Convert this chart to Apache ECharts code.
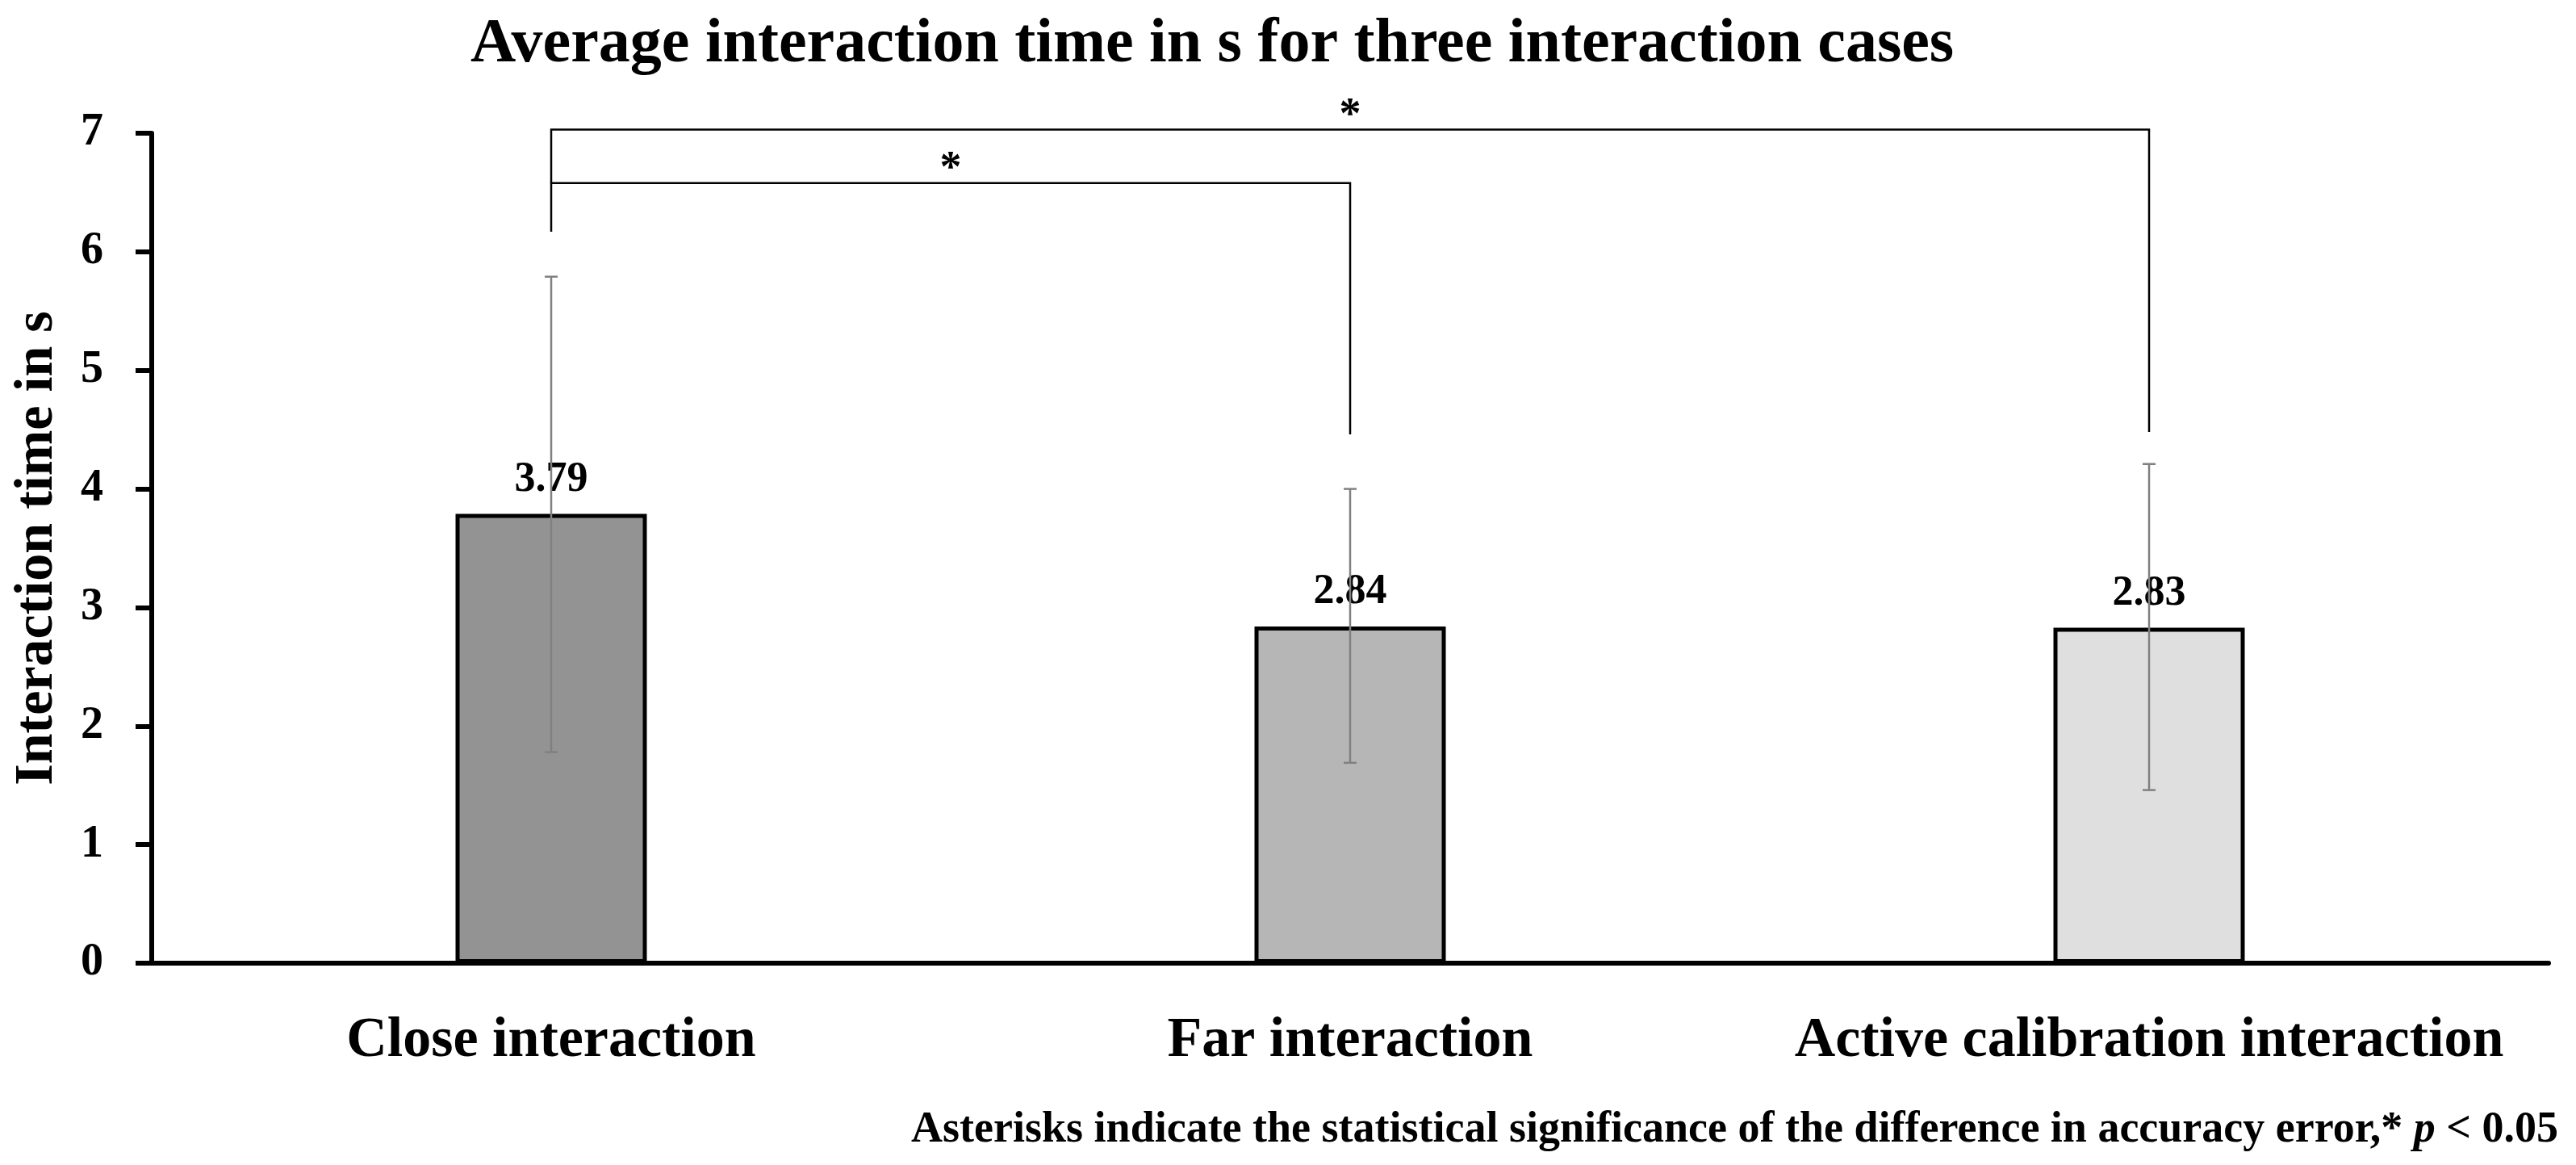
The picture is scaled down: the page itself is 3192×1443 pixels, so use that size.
<!DOCTYPE html>
<html>
<head>
<meta charset="utf-8">
<script src="https://cdn.jsdelivr.net/npm/echarts@6/dist/echarts.min.js"></script>
<style>
html,body{margin:0;padding:0;background:#fff;}
#chart{width:3192px;height:1443px;}
</style>
</head>
<body>
<div id="chart"></div>
<script>
// ---- data ----
var categories = ['Close interaction', 'Far interaction', 'Active calibration interaction'];
var means = [3.79, 2.84, 2.83];
var errLow = [1.78, 1.69, 1.46];
var errHigh = [5.79, 4.00, 4.21];
var barColors = ['#939393', '#b6b6b6', '#dfdfdf'];
// significance brackets
var bracketFrom = [0, 0];
var bracketTo = [1, 2];
var bracketY = [6.58, 7.03];
var bracketLeftEnd = [6.17, 6.58];
var bracketRightEnd = [4.46, 4.48];
var bracketMark = ['*', '*'];
var yTicks = [0, 1, 2, 3, 4, 5, 6, 7];

var FONT = "'Liberation Serif', 'Times New Roman', serif";

var chart = echarts.init(document.getElementById('chart'), null, {renderer: 'canvas'});

var errData = categories.map(function (c, i) { return [i, errLow[i], errHigh[i]]; });
var bracketData = bracketFrom.map(function (f, i) {
  return [f, bracketTo[i], bracketY[i], bracketLeftEnd[i], bracketRightEnd[i]];
});

var option = {
  backgroundColor: '#ffffff',
  animation: false,
  title: [{
    text: 'Average interaction time in s for three interaction cases',
    left: 578,
    top: 12,
    textStyle: {fontFamily: FONT, fontWeight: 'bold', fontSize: 78, color: '#000'}
  }, {
    text: '{a|Asterisks indicate the statistical significance of the difference in accuracy error,* }{i|p}{a| < 0.05}',
    right: 17,
    top: 1368,
    textStyle: {
      rich: {
        a: {fontFamily: FONT, fontWeight: 'bold', fontSize: 54, color: '#000'},
        i: {fontFamily: FONT, fontStyle: 'italic', fontWeight: 'bold', fontSize: 54, color: '#000'}
      }
    }
  }],
  grid: {left: 188, right: 34, top: 165, bottom: 250, containLabel: false},
  xAxis: {
    type: 'category',
    data: categories,
    axisLine: {show: true, lineStyle: {color: '#000', width: 6}},
    axisTick: {show: false},
    axisLabel: {
      fontFamily: FONT, fontWeight: 'bold', fontSize: 70, color: '#000', margin: 62,
      interval: 0
    }
  },
  yAxis: {
    type: 'value',
    min: 0, max: 7, interval: 1,
    name: 'Interaction time in s',
    nameLocation: 'middle',
    nameRotate: 90,
    nameGap: 108,
    nameTextStyle: {fontFamily: FONT, fontWeight: 'bold', fontSize: 68, color: '#000'},
    axisLine: {show: true, lineStyle: {color: '#000', width: 6}},
    axisTick: {show: true, length: 20, lineStyle: {color: '#000', width: 6}},
    splitLine: {show: false},
    axisLabel: {
      fontFamily: FONT, fontWeight: 'bold', fontSize: 56, color: '#000', margin: 60,
      formatter: function (v) { return yTicks.indexOf(v) >= 0 ? String(v) : ''; }
    }
  },
  series: [{
    type: 'bar',
    data: means.map(function (v, i) {
      return {value: v, itemStyle: {color: barColors[i]}};
    }),
    barWidth: 237,
    itemStyle: {borderColor: '#000', borderWidth: 5},
    label: {
      show: true, position: 'top', distance: 16,
      fontFamily: FONT, fontWeight: 'bold', fontSize: 52, color: '#000',
      formatter: function (p) { return p.value.toFixed(2); }
    },
    z: 2
  }, {
    type: 'custom',
    data: errData,
    encode: {x: 0, y: [1, 2]},
    z: 10,
    renderItem: function (params, api) {
      var x = api.value(0);
      var lo = api.coord([x, api.value(1)]);
      var hi = api.coord([x, api.value(2)]);
      var hw = 8;
      var st = {stroke: '#808080', lineWidth: 2.5};
      return {
        type: 'group',
        children: [
          {type: 'line', shape: {x1: hi[0], y1: hi[1], x2: lo[0], y2: lo[1]}, style: st},
          {type: 'line', shape: {x1: hi[0] - hw, y1: hi[1], x2: hi[0] + hw, y2: hi[1]}, style: st},
          {type: 'line', shape: {x1: lo[0] - hw, y1: lo[1], x2: lo[0] + hw, y2: lo[1]}, style: st}
        ]
      };
    }
  }, {
    type: 'custom',
    data: bracketData,
    encode: {x: [0, 1], y: [2, 3, 4]},
    clip: false,
    z: 11,
    renderItem: function (params, api) {
      var f = api.value(0), t = api.value(1);
      var pLE = api.coord([f, api.value(3)]);
      var pL = api.coord([f, api.value(2)]);
      var pR = api.coord([t, api.value(2)]);
      var pRE = api.coord([t, api.value(4)]);
      var mx = (pL[0] + pR[0]) / 2;
      return {
        type: 'group',
        children: [
          {type: 'polyline', shape: {points: [pLE, pL, pR, pRE]},
           style: {stroke: '#000', lineWidth: 2.5, fill: null}},
          {type: 'text', x: mx, y: pL[1] + 10,
           style: {text: bracketMark[params.dataIndex], fontFamily: FONT, fontWeight: 'bold',
                   fontSize: 54, fill: '#000', align: 'center', verticalAlign: 'bottom'}}
        ]
      };
    }
  }]
};
chart.setOption(option);
</script>
</body>
</html>
